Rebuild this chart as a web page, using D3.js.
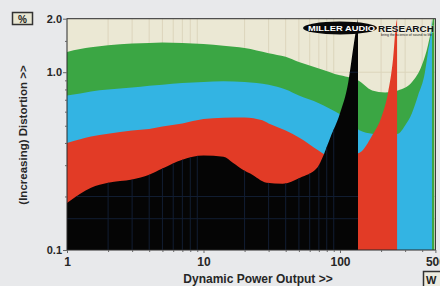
<!DOCTYPE html>
<html>
<head>
<meta charset="utf-8">
<script src="https://cdn.jsdelivr.net/npm/d3@7"></script>
<style>
  body { margin: 0; background: #e8e9eb; }
  svg { display: block; font-family: "Liberation Sans", Arial, sans-serif; }
</style>
</head>
<body>
<div id="graph-container"></div>
<script>
// power (W) and distortion (%), one pair of arrays per band
const greenPower = [1, 1.25, 1.5, 2, 3, 4, 5, 7, 10, 14, 20, 30, 40, 50, 70, 100, 120, 135, 172, 214, 266, 337, 399, 441, 472, 480, 490];
const greenDist = [1.30, 1.35, 1.38, 1.42, 1.45, 1.46, 1.47, 1.46, 1.44, 1.41, 1.37, 1.28, 1.22, 1.14, 1.05, 0.96, 0.93, 0.90, 0.79, 0.77, 0.79, 0.88, 1.10, 1.42, 1.84, 2.0, 2.0];

const bluePower = [1, 1.25, 1.5, 2, 3, 4, 5, 7, 10, 14, 20, 30, 40, 50, 70, 100, 120, 135, 140, 172, 214, 266, 299, 337, 373, 419, 441, 464, 472];
const blueDist = [0.74, 0.76, 0.78, 0.80, 0.82, 0.84, 0.85, 0.87, 0.88, 0.89, 0.88, 0.85, 0.80, 0.74, 0.67, 0.58, 0.53, 0.48, 0.47, 0.45, 0.44, 0.45, 0.50, 0.59, 0.74, 1.0, 1.30, 1.68, 2.0];

const redPower = [1, 1.25, 1.5, 2, 3, 4, 5, 7, 10, 14, 20, 27, 30, 40, 50, 70, 85, 100, 120, 135, 140, 172, 203, 225, 245, 257, 262];
const redDist = [0.40, 0.42, 0.435, 0.45, 0.47, 0.48, 0.495, 0.515, 0.545, 0.555, 0.557, 0.536, 0.515, 0.47, 0.43, 0.362, 0.33, 0.318, 0.327, 0.349, 0.353, 0.44, 0.57, 0.77, 1.2, 1.84, 2.0];

const blackPower = [1, 1.25, 1.5, 2, 3, 4, 5, 7, 10, 14, 16.4, 20, 22, 29, 38, 51, 68, 71, 85, 100, 115, 125, 131, 135.5];
const blackDist = [0.184, 0.207, 0.224, 0.239, 0.249, 0.265, 0.287, 0.322, 0.340, 0.335, 0.310, 0.279, 0.269, 0.239, 0.236, 0.255, 0.290, 0.306, 0.429, 0.587, 0.878, 1.37, 1.73, 2.0];

const xTicks = [1, 10, 100, 500];
const xTickLabels = ["1", "10", "100", "500"];
const yTicks = [0.1, 1, 2];
const yTickLabels = ["0.1", "1.0", "2.0"];
const xMinor = [2, 3, 4, 5, 6, 7, 8, 9, 20, 30, 40, 50, 60, 70, 80, 90, 200, 300, 400];
const yMinor = [0.2, 0.3, 0.4, 0.5, 0.6, 0.7, 0.8, 0.9, 1.5];

const svgWidth = 440;
const svgHeight = 286;
const plot = { left: 67, right: 435.4, top: 18.7, bottom: 250 };

const svg = d3
  .select("#graph-container")
  .append("svg")
  .attr("width", svgWidth)
  .attr("height", svgHeight);

const xScale = d3.scaleLog().domain([1, 500]).range([plot.left, plot.right]);
const yScale = d3.scaleLog().domain([0.1, 2]).range([plot.bottom, plot.top]);

const toPoints = (power, dist) => power.map((p, i) => ({ p, d: dist[i] }));

const area = d3
  .area()
  .curve(d3.curveMonotoneX)
  .x((d) => xScale(d.p))
  .y0(plot.bottom)
  .y1((d) => yScale(d.d));

const defs = svg.append("defs");
defs
  .append("clipPath")
  .attr("id", "plot-clip")
  .append("rect")
  .attr("x", plot.left)
  .attr("y", plot.top)
  .attr("width", plot.right - plot.left)
  .attr("height", plot.bottom - plot.top);

const blackData = toPoints(blackPower, blackDist);
defs
  .append("clipPath")
  .attr("id", "black-clip")
  .append("path")
  .attr("d", area(blackData));

// beige background
svg
  .append("rect")
  .attr("x", plot.left)
  .attr("y", plot.top)
  .attr("width", plot.right - plot.left)
  .attr("height", plot.bottom - plot.top)
  .attr("fill", "#ebe8d4");

const drawGrid = (g, color) => {
  g.selectAll("line.v")
    .data(xMinor)
    .enter()
    .append("line")
    .attr("x1", (d) => xScale(d))
    .attr("x2", (d) => xScale(d))
    .attr("y1", plot.top)
    .attr("y2", plot.bottom)
    .attr("stroke", color)
    .attr("stroke-width", 1);
  g.selectAll("line.h")
    .data([0.15, 0.2, 1])
    .enter()
    .append("line")
    .attr("x1", plot.left)
    .attr("x2", plot.right)
    .attr("y1", (d) => yScale(d))
    .attr("y2", (d) => yScale(d))
    .attr("stroke", color)
    .attr("stroke-width", 1);
};

drawGrid(svg.append("g").attr("clip-path", "url(#plot-clip)"), "#dcd5bc");

const bands = svg.append("g").attr("clip-path", "url(#plot-clip)");
[
  { data: toPoints(greenPower, greenDist), color: "#3ba644" },
  { data: toPoints(bluePower, blueDist), color: "#33b4e3" },
  { data: toPoints(redPower, redDist), color: "#e23b26" },
  { data: blackData, color: "#050505" },
].forEach((band) => {
  bands.append("path").datum(band.data).attr("d", area).attr("fill", band.color);
});

// faint dark blue grid showing through the black band
drawGrid(svg.append("g").attr("clip-path", "url(#black-clip)"), "#121e33");

// frame
svg
  .append("rect")
  .attr("x", plot.left)
  .attr("y", plot.top)
  .attr("width", plot.right - plot.left)
  .attr("height", plot.bottom - plot.top)
  .attr("fill", "none")
  .attr("stroke", "#2a2a2a")
  .attr("stroke-width", 1);

// axes
const yAxis = svg
  .append("g")
  .attr("transform", `translate(${plot.left},0)`)
  .call(
    d3.axisLeft(yScale)
      .tickValues(yTicks)
      .tickFormat((d, i) => yTickLabels[i])
      .tickSize(4)
      .tickPadding(1)
  );
const yMinorAxis = svg
  .append("g")
  .attr("transform", `translate(${plot.left},0)`)
  .call(d3.axisLeft(yScale).tickValues(yMinor).tickFormat("").tickSize(2));

const xAxis = svg
  .append("g")
  .attr("transform", `translate(0,${plot.bottom})`)
  .call(
    d3.axisBottom(xScale)
      .tickValues(xTicks)
      .tickFormat((d, i) => xTickLabels[i])
      .tickSize(3)
      .tickPadding(4)
  );
const xMinorAxis = svg
  .append("g")
  .attr("transform", `translate(0,${plot.bottom})`)
  .call(d3.axisBottom(xScale).tickValues(xMinor).tickFormat("").tickSize(2));

[yAxis, yMinorAxis, xAxis, xMinorAxis].forEach((g) => {
  g.select(".domain").remove();
  g.selectAll(".tick line").attr("stroke", "#666");
  g.selectAll("text")
    .attr("fill", "#262626")
    .attr("font-weight", "bold")
    .attr("font-family", "Liberation Sans, Arial, sans-serif");
});
yAxis.selectAll("text").attr("font-size", 11);
xAxis.selectAll("text").attr("font-size", 12);

// axis titles
svg
  .append("text")
  .attr("x", 258)
  .attr("y", 283)
  .attr("text-anchor", "middle")
  .attr("font-size", 12)
  .attr("font-weight", "bold")
  .attr("fill", "#262626")
  .text("Dynamic Power Output >>");

svg
  .append("text")
  .attr("transform", "translate(27,135) rotate(-90)")
  .attr("text-anchor", "middle")
  .attr("font-size", 11.5)
  .attr("font-weight", "bold")
  .attr("fill", "#262626")
  .text("(Increasing) Distortion >>");

// unit boxes
svg
  .append("rect")
  .attr("x", 12.5)
  .attr("y", 12.5)
  .attr("width", 20)
  .attr("height", 12)
  .attr("fill", "#e9e7d3")
  .attr("stroke", "#333")
  .attr("stroke-width", 1.5);
svg
  .append("text")
  .attr("x", 22.5)
  .attr("y", 22.5)
  .attr("text-anchor", "middle")
  .attr("font-size", 10)
  .attr("font-weight", "bold")
  .attr("fill", "#222")
  .text("%");

svg
  .append("rect")
  .attr("x", 423.5)
  .attr("y", 271.5)
  .attr("width", 20)
  .attr("height", 16)
  .attr("fill", "#ecebe0")
  .attr("stroke", "#333")
  .attr("stroke-width", 1.5);
svg
  .append("text")
  .attr("x", 426)
  .attr("y", 284)
  .attr("font-size", 11)
  .attr("font-weight", "bold")
  .attr("fill", "#222")
  .text("W");

// logo
svg
  .append("ellipse")
  .attr("cx", 340)
  .attr("cy", 28)
  .attr("rx", 37)
  .attr("ry", 6.5)
  .attr("fill", "#080808");
svg
  .append("text")
  .attr("x", 308)
  .attr("y", 31)
  .attr("font-size", 8)
  .attr("font-weight", "bold")
  .attr("fill", "#fff")
  .attr("textLength", 67)
  .attr("lengthAdjust", "spacingAndGlyphs")
  .text("MILLER AUDIO");
svg
  .append("text")
  .attr("x", 378)
  .attr("y", 31.5)
  .attr("font-size", 9)
  .attr("font-weight", "bold")
  .attr("fill", "#111")
  .attr("stroke", "#fff")
  .attr("stroke-width", 0.4)
  .attr("paint-order", "stroke")
  .attr("textLength", 56)
  .attr("lengthAdjust", "spacingAndGlyphs")
  .text("RESEARCH");
svg
  .append("text")
  .attr("x", 381)
  .attr("y", 36)
  .attr("font-size", 3.5)
  .attr("fill", "#222")
  .attr("textLength", 51)
  .attr("lengthAdjust", "spacingAndGlyphs")
  .text("bring the science of sound to life");
</script>
</body>
</html>
